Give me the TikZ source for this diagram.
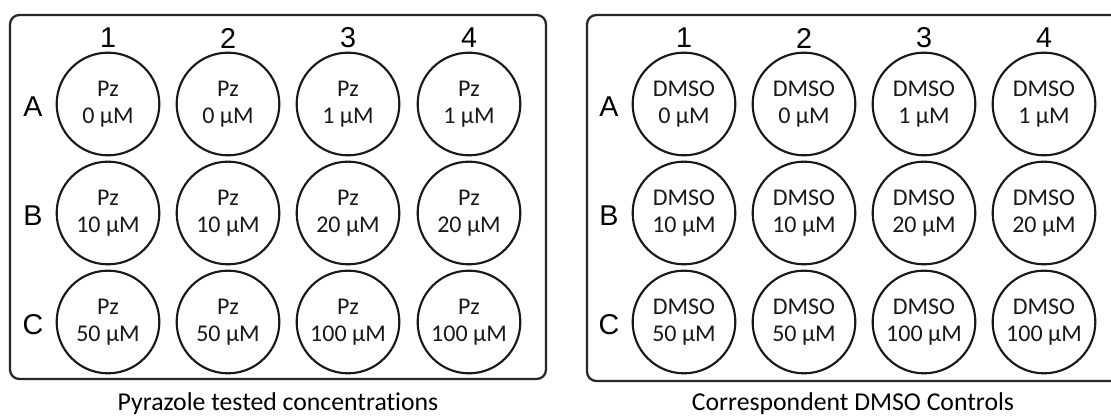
\documentclass[tikz,border=0pt]{standalone}
\usepackage{fontspec}
\setmainfont{Carlito}[Ligatures=NoCommon]
\newfontfamily\arialfont{Liberation Sans}
\begin{document}
\begin{tikzpicture}[x=0.75pt,y=-0.75pt,
  plate/.style={draw=black!85,line width=1.7pt,rounded corners=7pt},
  well/.style={draw=black!90,line width=1.6pt,circle,minimum size=77pt,inner sep=0pt,
     align=center,font=\fontsize{18}{20.5}\selectfont,text=black!90},
  idx/.style={font=\arialfont\fontsize{21.5}{24}\selectfont,inner sep=0pt},
  captext/.style={font=\fontsize{19.3}{22}\selectfont,inner sep=0pt}]
\useasboundingbox (0,0) rectangle (1111,420);
\clip (0,0) rectangle (1111,420);
\fill[white] (0,0) rectangle (1111,420);
% plates
\draw[plate] (10,15) rectangle (546,379);
\draw[plate] (587,15) rectangle (1130,381);
% wells
\foreach \r/\y/\a/\b/\c/\d in {A/104/0/0/1/1, B/213/10/10/20/20, C/322/50/50/100/100}{
  \node[well] (L\r1) at (108,\y) {Pz\\\a\ µM};
  \node[well] (L\r2) at (228,\y) {Pz\\\b\ µM};
  \node[well] (L\r3) at (348,\y) {Pz\\\c\ µM};
  \node[well] (L\r4) at (469,\y) {Pz\\\d\ µM};
  \node[idx] (Lrow\r) at (33,\y+3) {\r};
  \node[well] (R\r1) at (684,\y) {DMSO\\\a\ µM};
  \node[well] (R\r2) at (804,\y) {DMSO\\\b\ µM};
  \node[well] (R\r3) at (924,\y) {DMSO\\\c\ µM};
  \node[well] (R\r4) at (1044,\y) {DMSO\\\d\ µM};
  \node[idx] (Rrow\r) at (609,\y+3) {\r};
}
\foreach \n/\xl/\xr in {1/108/684, 2/228/804, 3/348/924, 4/469/1044}{
  \node[idx] (Lcol\n) at (\xl,38) {\n};
  \node[idx] (Rcol\n) at (\xr,38) {\n};
}
\node[captext] (capL) at (278,404) {Pyrazole tested concentrations};
\node[captext] (capR) at (853,404) {Correspondent DMSO Controls};
\end{tikzpicture}
\end{document}
